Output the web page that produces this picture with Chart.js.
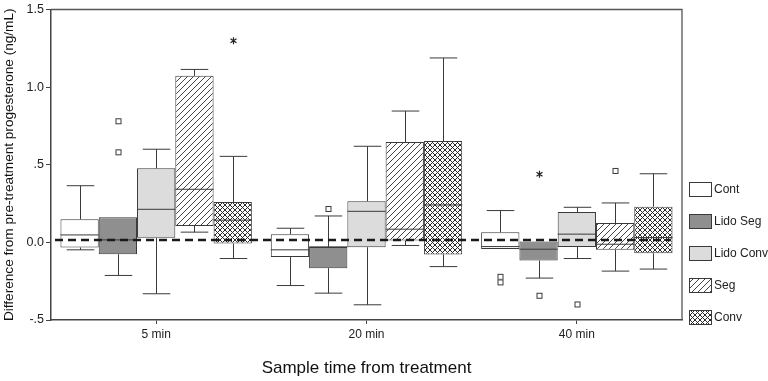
<!DOCTYPE html>
<html><head><meta charset="utf-8">
<script src="https://cdn.jsdelivr.net/npm/chart.js@4/dist/chart.umd.min.js"></script>
<style>html,body{margin:0;padding:0;background:#fff}#wrap{width:768px;height:381px}</style>
</head><body><div id="wrap"><canvas id="c" width="768" height="381"></canvas></div>
<script>
const categories = ['5 min', '20 min', '40 min'];
const seriesNames = ['Cont', 'Lido Seg', 'Lido Conv', 'Seg', 'Conv'];
const yTickValues = [-0.5, 0, 0.5, 1.0, 1.5];
const yTickLabels = ['-.5', '0.0', '.5', '1.0', '1.5'];
const referenceValue = 0.015;

// [min, q1, median, q3, max] for each category
const contBox     = [[-0.048, -0.033, 0.048, 0.149, 0.365], [-0.278, -0.095, -0.048, 0.053, 0.091], [-0.042, -0.042, -0.027, 0.065, 0.205]];
const lidoSegBox  = [[-0.213, -0.076, 0.016, 0.162, 0.162], [-0.327, -0.166, -0.029, -0.029, 0.170], [-0.230, -0.117, -0.044, 0.005, 0.005]];
const lidoConvBox = [[-0.331, 0.029, 0.213, 0.477, 0.600], [-0.402, -0.031, 0.200, 0.265, 0.619], [-0.104, -0.029, 0.053, 0.196, 0.226]];
const segBox      = [[0.066, 0.106, 0.342, 1.073, 1.114], [-0.020, 0.012, 0.085, 0.646, 0.846], [-0.185, -0.048, -0.012, 0.125, 0.254]];
const convBox     = [[-0.104, -0.008, 0.143, 0.260, 0.554], [-0.156, -0.078, 0.241, 0.653, 1.188], [-0.172, -0.070, 0.031, 0.230, 0.442]];

// outliers (open squares) per category
const contOutliers     = [[], [], [-0.222, -0.258]];
const lidoSegOutliers  = [[0.78, 0.58], [0.215], [-0.344]];
const lidoConvOutliers = [[], [], [-0.40]];
const segOutliers      = [[], [], [0.46]];
const convOutliers     = [[], [], []];
// extremes (asterisks) per category
const contExtremes     = [[], [], []];
const lidoSegExtremes  = [[], [], [0.439]];
const lidoConvExtremes = [[], [], []];
const segExtremes      = [[], [], []];
const convExtremes     = [[1.298], [], []];

const boxes = [contBox, lidoSegBox, lidoConvBox, segBox, convBox];
const outliers = [contOutliers, lidoSegOutliers, lidoConvOutliers, segOutliers, convOutliers];
const extremes = [contExtremes, lidoSegExtremes, lidoConvExtremes, segExtremes, convExtremes];

const INK = '#3a3a3a';
const FONT = '"Liberation Sans", Arial, sans-serif';

function makePattern(kind) {
  const s = kind === 'diag' ? 6 : 5;
  const cv = document.createElement('canvas');
  cv.width = s; cv.height = s;
  const g = cv.getContext('2d');
  g.fillStyle = '#ffffff'; g.fillRect(0, 0, s, s);
  g.strokeStyle = kind === 'diag' ? '#444' : '#2a2a2a';
  g.lineWidth = 1;
  g.beginPath();
  g.moveTo(-1, s + 1); g.lineTo(s + 1, -1);
  g.moveTo(-1, 1); g.lineTo(1, -1);
  g.moveTo(s - 1, s + 1); g.lineTo(s + 1, s - 1);
  if (kind === 'cross') {
    g.moveTo(-1, -1); g.lineTo(s + 1, s + 1);
    g.moveTo(s - 1, -1); g.lineTo(s + 1, 1);
    g.moveTo(-1, s - 1); g.lineTo(1, s + 1);
  }
  g.stroke();
  return g.createPattern(cv, 'repeat');
}

const fills = ['#ffffff', '#8f8f8f', '#dcdcdc', makePattern('diag'), makePattern('cross')];

function drawStar(ctx, x, y) {
  ctx.save();
  ctx.strokeStyle = '#222';
  ctx.lineWidth = 1.2;
  ctx.beginPath();
  ctx.moveTo(x, y - 3.5); ctx.lineTo(x, y + 3.5);
  ctx.moveTo(x - 3, y - 2); ctx.lineTo(x + 3, y + 2);
  ctx.moveTo(x - 3, y + 2); ctx.lineTo(x + 3, y - 2);
  ctx.stroke();
  ctx.restore();
}

const boxPlugin = {
  id: 'boxplot',
  afterDatasetsDraw(chart) {
    const ctx = chart.ctx;
    const y = chart.scales.y;
    ctx.save();
    ctx.strokeStyle = INK;
    ctx.lineWidth = 1;
    boxes.forEach((box, i) => {
      const meta = chart.getDatasetMeta(i);
      meta.data.forEach((bar, j) => {
        const b = box[j];
        const x = Math.round(bar.x) + 0.5;
        const w = bar.width;
        const cap = w * 0.36;
        const yMin = y.getPixelForValue(b[0]);
        const yQ1 = y.getPixelForValue(b[1]);
        const yMed = y.getPixelForValue(b[2]);
        const yQ3 = y.getPixelForValue(b[3]);
        const yMax = y.getPixelForValue(b[4]);
        ctx.strokeStyle = INK;
        ctx.lineWidth = 1;
        ctx.beginPath();
        if (yMax < yQ3 - 0.5) {
          ctx.moveTo(x, yQ3); ctx.lineTo(x, yMax);
          ctx.moveTo(x - cap, yMax); ctx.lineTo(x + cap, yMax);
        }
        if (yMin > yQ1 + 0.5) {
          ctx.moveTo(x, yQ1); ctx.lineTo(x, yMin);
          ctx.moveTo(x - cap, yMin); ctx.lineTo(x + cap, yMin);
        }
        ctx.moveTo(bar.x - w / 2, yMed); ctx.lineTo(bar.x + w / 2, yMed);
        ctx.stroke();
        outliers[i][j].forEach(v => {
          const py = y.getPixelForValue(v);
          ctx.fillStyle = '#fff';
          ctx.fillRect(x - 3, py - 3, 6, 6);
          ctx.strokeRect(x - 2.5, py - 2.5, 5, 5);
        });
        extremes[i][j].forEach(v => drawStar(ctx, x, y.getPixelForValue(v)));
      });
    });
    // reference dashed line
    const area = chart.chartArea;
    const ry = y.getPixelForValue(referenceValue);
    ctx.beginPath();
    ctx.setLineDash([8, 5]);
    ctx.lineWidth = 2.6;
    ctx.strokeStyle = '#1a1a1a';
    ctx.moveTo(area.left + 4, ry); ctx.lineTo(area.right - 11, ry);
    ctx.stroke();
    ctx.setLineDash([]);
    // frame top and right
    ctx.lineWidth = 1.3;
    ctx.strokeStyle = '#555';
    ctx.beginPath();
    ctx.moveTo(area.left, area.top); ctx.lineTo(area.right, area.top); ctx.lineTo(area.right, area.bottom);
    ctx.stroke();
    // legend
    ctx.font = '12px ' + FONT;
    ctx.textAlign = 'left';
    ctx.textBaseline = 'middle';
    seriesNames.forEach((name, i) => {
      const ly = 189 + i * 32;
      const lx = area.right + 7;
      ctx.fillStyle = fills[i];
      ctx.fillRect(lx, ly - 7, 22, 14);
      ctx.lineWidth = 1;
      ctx.strokeStyle = INK;
      ctx.strokeRect(lx + 0.5, ly - 6.5, 22, 14);
      ctx.fillStyle = '#222';
      ctx.fillText(name, lx + 25, ly + 1);
    });
    ctx.restore();
  }
};

new Chart(document.getElementById('c'), {
  type: 'bar',
  data: {
    labels: categories,
    datasets: seriesNames.map((name, i) => ({
      label: name,
      data: boxes[i].map(b => [b[1], b[3]]),
      backgroundColor: fills[i],
      borderColor: INK,
      borderWidth: 1,
      borderSkipped: false,
      categoryPercentage: 0.91,
      barPercentage: 1.0
    }))
  },
  options: {
    responsive: false,
    animation: false,
    devicePixelRatio: 1,
    layout: { padding: { left: 0, top: 9, right: 86, bottom: 0 } },
    plugins: { legend: { display: false }, tooltip: { enabled: false } },
    scales: {
      x: {
        offset: true,
        grid: { display: true, drawOnChartArea: false, drawTicks: true, tickLength: 4, color: '#444', offset: false },
        border: { display: true, color: '#444', width: 1.5 },
        ticks: { font: { size: 12, family: FONT }, color: '#222', padding: 3 },
        title: { display: true, text: 'Sample time from treatment', color: '#111', font: { size: 17, family: FONT }, padding: { top: 0, bottom: 2 } },
        afterFit(s) { s.height = 61; }
      },
      y: {
        min: -0.5, max: 1.5,
        afterBuildTicks(s) { s.ticks = yTickValues.map(v => ({ value: v })); },
        grid: { display: true, drawOnChartArea: false, drawTicks: true, tickLength: 5, color: '#444' },
        border: { display: true, color: '#444', width: 1.5 },
        ticks: {
          font: { size: 12.5, family: FONT }, color: '#222', padding: 2,
          callback(v) { const k = yTickValues.indexOf(v); return k >= 0 ? yTickLabels[k] : ''; }
        },
        title: { display: true, text: 'Difference from pre-treatment progesterone (ng/mL)', color: '#111', font: { size: 13.6, family: FONT }, padding: { top: 1, bottom: 0 } },
        afterFit(s) { s.width = 51; }
      }
    }
  },
  plugins: [boxPlugin]
});
</script>
</body></html>
